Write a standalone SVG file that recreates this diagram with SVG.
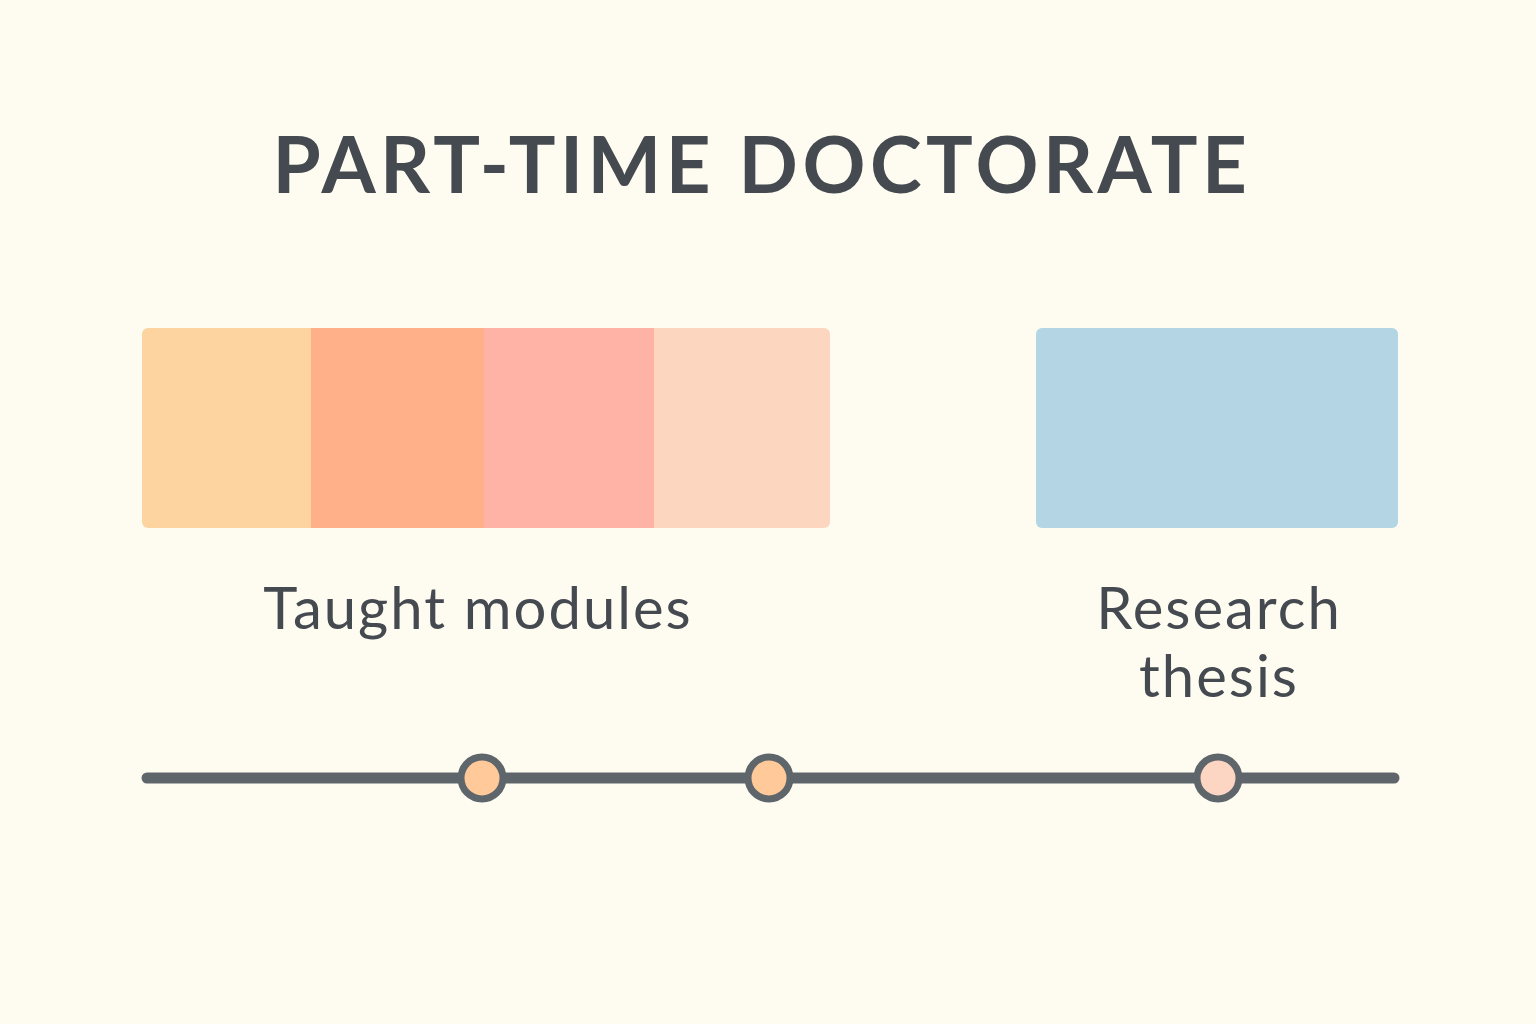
<svg xmlns="http://www.w3.org/2000/svg" width="1536" height="1024" viewBox="0 0 1536 1024">
<style>
.t{font-family:Lato,"Open Sans","Liberation Sans",sans-serif;fill:#454a50}
.title{font-size:78px;font-weight:700;letter-spacing:4.5px}
.lbl{font-size:58px;font-weight:400;letter-spacing:2px}
.dot{stroke:#5f666b;stroke-width:7}
</style>
<rect width="1536" height="1024" fill="#fefcf1"/>
<text class="t title" x="762" y="193" text-anchor="middle">PART-TIME DOCTORATE</text>
<g id="taught">
<clipPath id="c1"><rect x="142" y="328" width="688" height="200" rx="6"/></clipPath>
<g clip-path="url(#c1)">
<rect x="142" y="328" width="170" height="200" fill="#fdd49f"/>
<rect x="311" y="328" width="174" height="200" fill="#ffb088"/>
<rect x="484" y="328" width="171" height="200" fill="#ffb3a7"/>
<rect x="654" y="328" width="176" height="200" fill="#fdd6bf"/>
</g>
<text class="t lbl" x="478" y="629" text-anchor="middle">Taught modules</text>
</g>
<g id="research">
<rect x="1036" y="328" width="362" height="200" rx="6" fill="#b3d5e4"/>
<text class="t lbl" x="1219" y="629" text-anchor="middle">Research</text>
<text class="t lbl" x="1219" y="697" text-anchor="middle">thesis</text>
</g>
<g id="timeline">
<line x1="147" y1="778" x2="1394" y2="778" stroke="#5f666b" stroke-width="11" stroke-linecap="round"/>
<circle class="dot" cx="482" cy="778" r="21" fill="#ffc99a"/>
<circle class="dot" cx="769" cy="778" r="21" fill="#ffc99a"/>
<circle class="dot" cx="1218" cy="778" r="21" fill="#fdd5c3"/>
</g>
</svg>
